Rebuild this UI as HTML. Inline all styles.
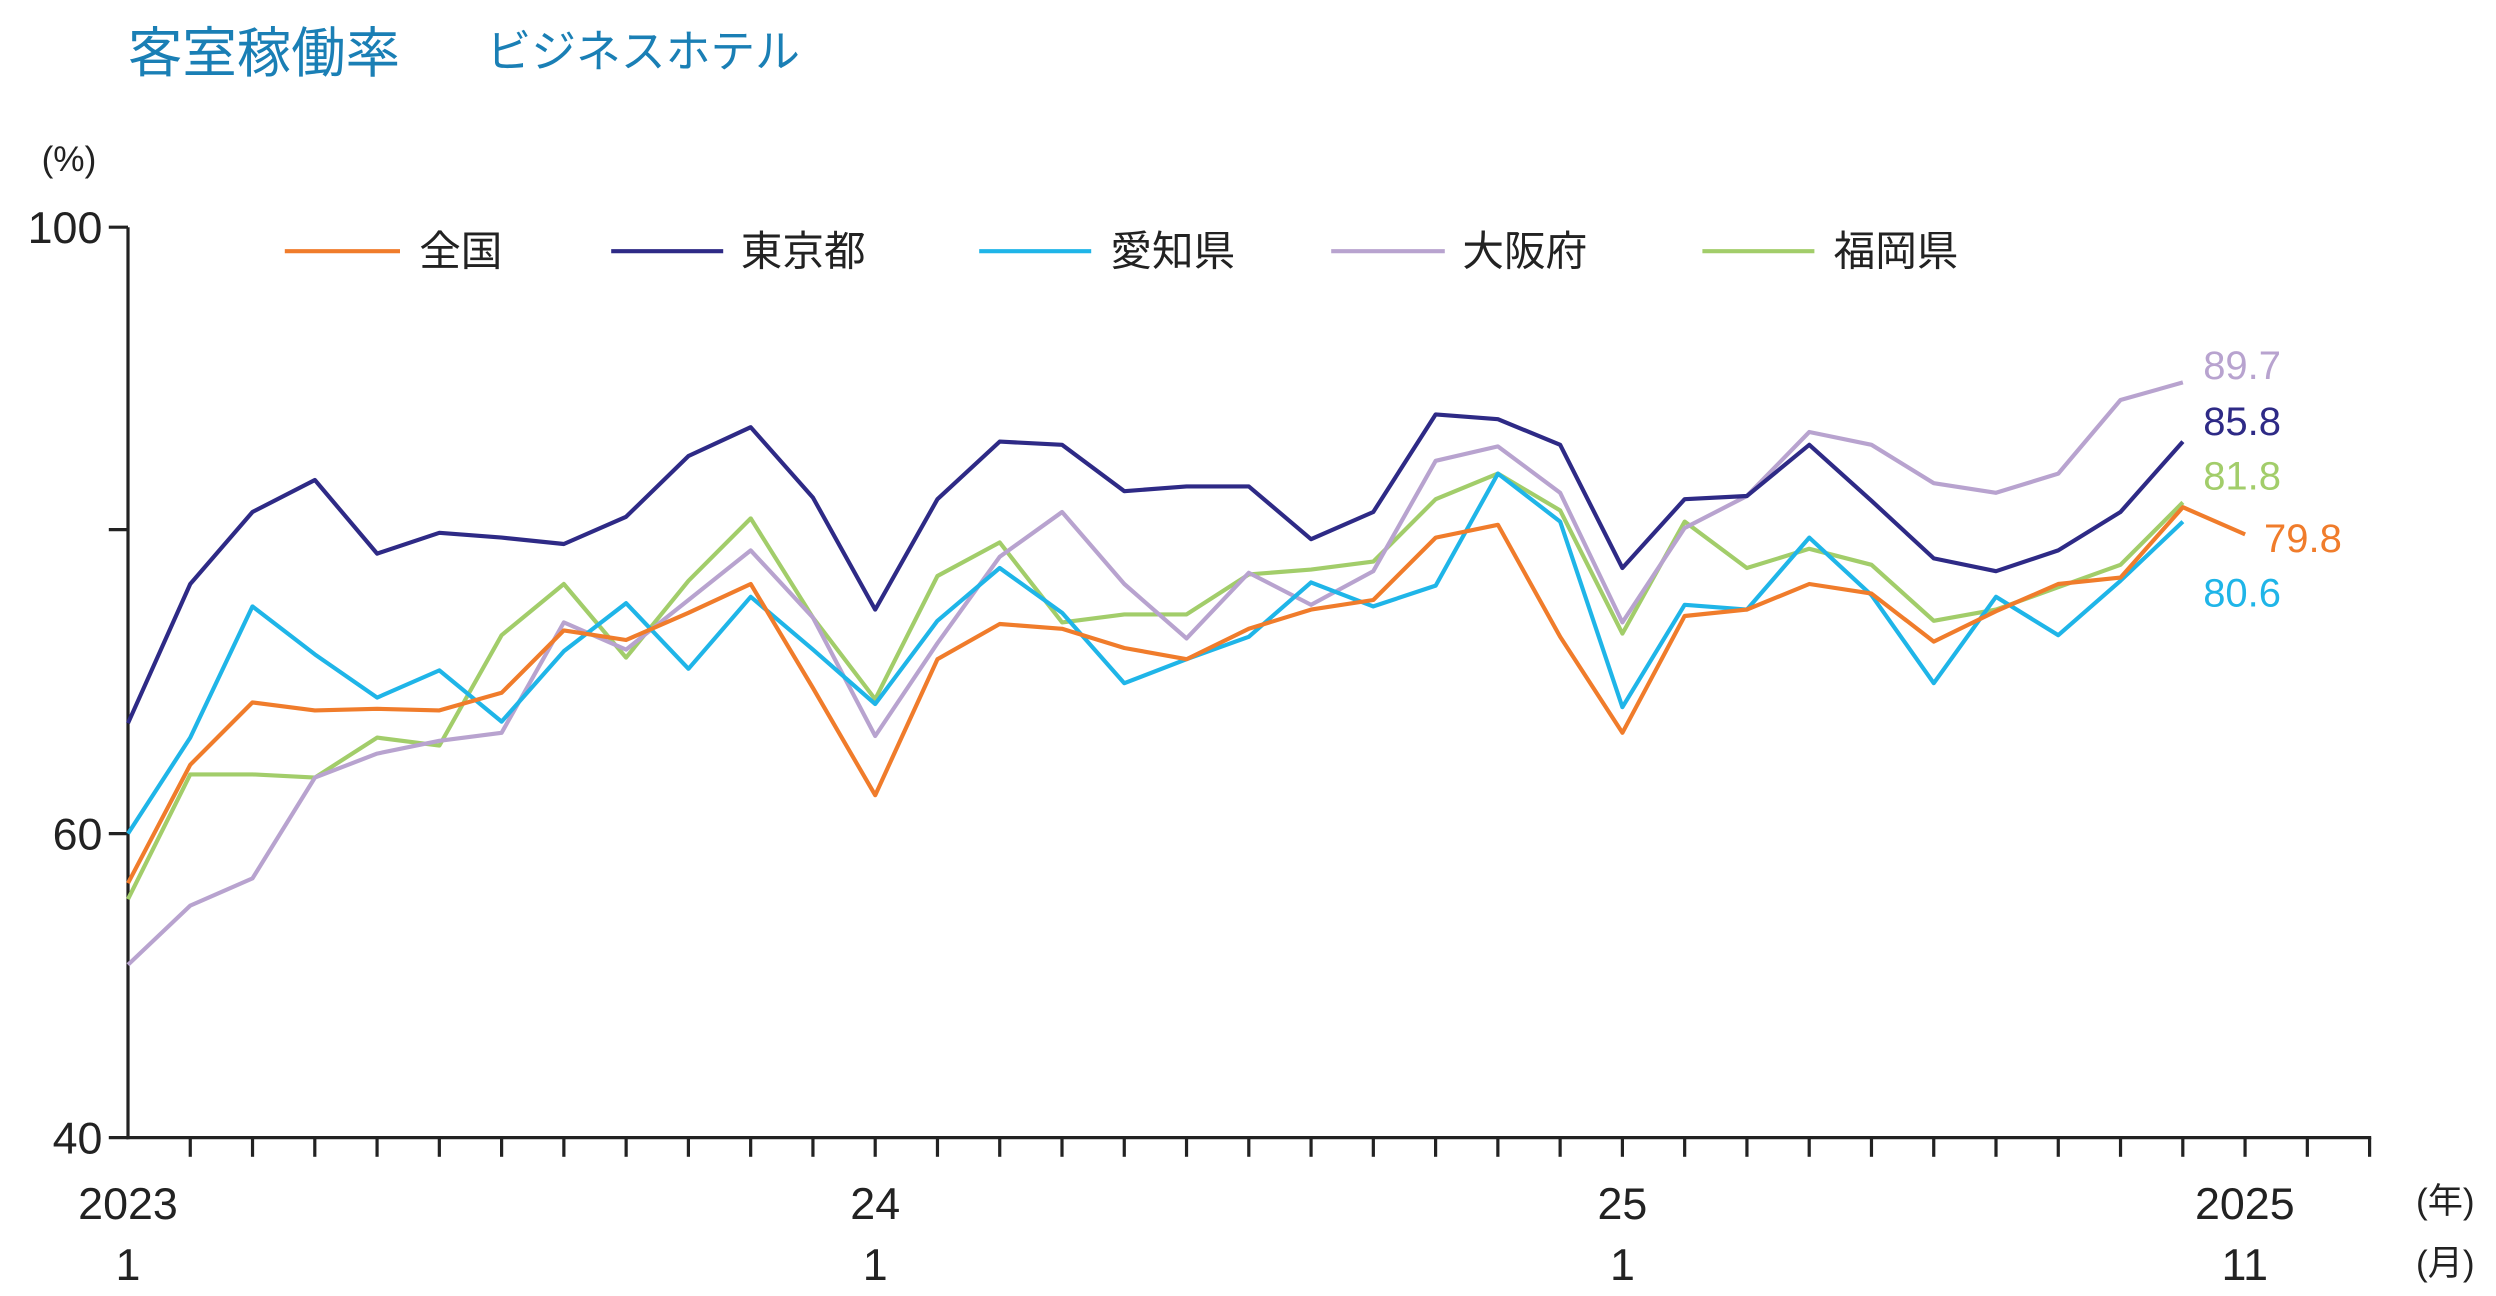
<!DOCTYPE html>
<html><head><meta charset="utf-8"><style>
html,body{margin:0;padding:0;background:#fff;}
svg{display:block;}
text{font-family:"Liberation Sans","Noto Sans CJK JP",sans-serif;}
</style></head><body>
<svg width="2496" height="1296" viewBox="0 0 1560 810" xmlns="http://www.w3.org/2000/svg">
<rect width="1560" height="810" fill="#fff"/>
<text x="80" y="45" font-size="34" fill="#1a7fb5">客室稼働率</text>
<text x="304" y="42" font-size="28" fill="#1a7fb5">ビジネスホテル</text>
<text x="26" y="107" font-size="22" fill="#222">(%)</text>
<g font-size="28" fill="#222" text-anchor="end">
<text x="64" y="152">100</text><text x="64" y="531">60</text><text x="64" y="721">40</text>
</g>
<g stroke="#222" stroke-width="2" fill="none">
<line x1="80" y1="142" x2="80" y2="712"/>
<line x1="79" y1="711" x2="1482" y2="711"/>
<line x1="68" y1="142" x2="80" y2="142"/>
<line x1="68" y1="331" x2="80" y2="331"/>
<line x1="68" y1="521" x2="80" y2="521"/>
<line x1="68" y1="711" x2="80" y2="711"/>
</g>
<g id="xt" stroke="#222" stroke-width="2"></g>
<g font-size="28" fill="#222" text-anchor="middle">
<text x="80" y="762">2023</text><text x="80" y="800">1</text>
<text x="547" y="762">24</text><text x="547" y="800">1</text>
<text x="1014" y="762">25</text><text x="1014" y="800">1</text>
<text x="1403" y="762">2025</text><text x="1403" y="800">11</text>
</g>
<g font-size="22" fill="#222"><text x="1510" y="758">(年)</text><text x="1510" y="797">(月)</text></g>
<g stroke-width="2.6" fill="none">
<line x1="178" y1="157" x2="250" y2="157" stroke="#f07c2b"/>
<line x1="382" y1="157" x2="452" y2="157" stroke="#2e2a86"/>
<line x1="612" y1="157" x2="682" y2="157" stroke="#1fb5e8"/>
<line x1="832" y1="157" x2="903" y2="157" stroke="#b8a3cf"/>
<line x1="1064" y1="157" x2="1134" y2="157" stroke="#a2cd6a"/>
</g>
<g font-size="26" fill="#222">
<text x="262" y="166">全国</text><text x="463" y="166">東京都</text><text x="694" y="166">愛知県</text><text x="914" y="166">大阪府</text><text x="1146" y="166">福岡県</text>
</g>
<g id="series" fill="none" stroke-width="2.6" stroke-linejoin="round"></g>
<g font-size="25">
<text x="1377" y="237" fill="#b8a3cf">89.7</text>
<text x="1377" y="272" fill="#2e2a86">85.8</text>
<text x="1377" y="306" fill="#a2cd6a">81.8</text>
<text x="1415" y="345" fill="#f07c2b">79.8</text>
<text x="1377" y="379" fill="#1fb5e8">80.6</text>
</g>
</svg>
<script>
var ns="http://www.w3.org/2000/svg";
var xt=document.getElementById('xt');
for(var i=1;i<=36;i++){var l=document.createElementNS(ns,'line');var x=80+i*467/12;l.setAttribute('x1',x);l.setAttribute('x2',x);l.setAttribute('y1',711);l.setAttribute('y2',723);xt.appendChild(l);}
var S=[
["#a2cd6a",[562,484,484,486,461,466,397,365,411,363,324,386,437,360,339,389,384,384,359,356,351,312,296,319,396,326,355,343,353,388,381,367,353,314]],
["#b8a3cf",[603,566,549,486,471,463,458,389,406,375,344,386,460,402,348,320,365,399,358,378,357,288,279,308,389,330,310,270,278,302,308,296,250,239]],
["#1fb5e8",[521,461,379,409,436,419,451,407,377,418,373,406,440,388,355,383,427,412,398,364,379,366,296,326,442,378,381,336,372,427,373,397,363,326]],
["#f07c2b",[552,478,439,444,443,444,433,394,400,383,365,430,497,412,390,393,405,412,393,381,375,336,328,398,458,385,381,365,371,401,382,365,361,317,334]],
["#2e2a86",[452,365,320,300,346,333,336,340,323,285,267,311,381,312,276,278,307,304,304,337,320,259,262,278,355,312,310,278,313,349,357,344,320,276]]
];
var g=document.getElementById('series');
S.forEach(function(s){var p=document.createElementNS(ns,'polyline');p.setAttribute('stroke',s[0]);p.setAttribute('points',s[1].map(function(y,i){return (80+i*467/12).toFixed(1)+','+y}).join(' '));g.appendChild(p);});
</script>
</body></html>
